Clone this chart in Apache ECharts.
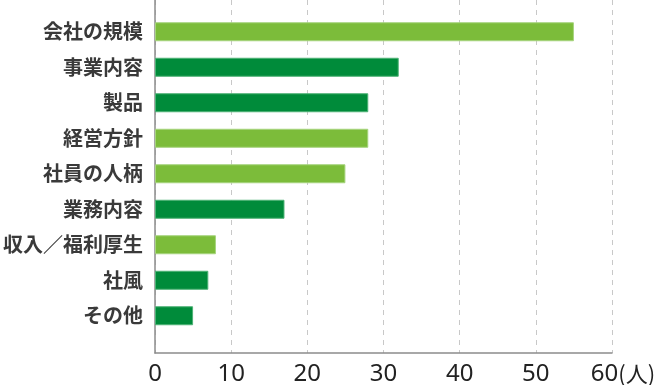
<!DOCTYPE html>
<html><head><meta charset="utf-8">
<script src="https://cdn.jsdelivr.net/npm/echarts@6/dist/echarts.min.js"></script>
<style>html,body{margin:0;padding:0;background:#fff}#c{width:658px;height:385px}</style>
</head><body><div id="c"></div>
<script>
const categories = ['会社の規模','事業内容','製品','経営方針','社員の人柄','業務内容','収入／福利厚生','社風','その他'];
const values = [55, 32, 28, 28, 25, 17, 8, 7, 5];
const colorKinds = ['light','dark','dark','light','light','dark','light','dark','dark'];
const tickValues = [0,10,20,30,40,50,60];
const unitLabel = '(人)';

const palette = {light:{fill:'#7cbc3a',border:'#a6d47e'}, dark:{fill:'#008b3a',border:'#4db276'}};
const chart = echarts.init(document.getElementById('c'));
const L = 155, R = 658-612;
chart.setOption({
  animation:false,
  grid:[
    {left:L,right:R,top:0,bottom:32,outerBoundsMode:'none',containLabel:false},
    {left:L,right:R,top:14,height:319.5,outerBoundsMode:'none',containLabel:false}
  ],
  xAxis:[
    {gridIndex:0,type:'value',min:0,max:60,interval:10,
     axisLine:{show:true,lineStyle:{color:'#8c8c8c',width:1.5}},
     axisTick:{show:false},
     splitLine:{show:true,lineStyle:{color:'#c8c8c8',type:[5,5],width:1}},
     axisLabel:{margin:9,color:'#222',fontSize:24,fontFamily:'Noto Sans, sans-serif',
       formatter:function(v){return v===60?'{a|60}{u|'+unitLabel+'}':String(v);},
       rich:{a:{fontSize:24,color:'#222',padding:[0,0,0,22],fontFamily:'Noto Sans, sans-serif'},
             u:{fontSize:22,color:'#222',fontFamily:'Noto Sans CJK JP, sans-serif'}}}},
    {gridIndex:1,type:'value',min:0,max:60,show:false,splitLine:{show:false}}
  ],
  yAxis:[
    {gridIndex:0,type:'category',data:[''],axisLine:{show:true,lineStyle:{color:'#8c8c8c',width:1.5}},
     axisTick:{show:false},axisLabel:{show:false}},
    {gridIndex:1,type:'category',inverse:true,data:categories,
     axisLine:{show:false},axisTick:{show:false},
     axisLabel:{margin:12,color:'#3a3a3a',fontSize:20,fontWeight:'bold',fontFamily:'Noto Sans CJK JP, sans-serif'}}
  ],
  series:[{
    type:'bar',xAxisIndex:1,yAxisIndex:1,barWidth:19,
    data:values.map((v,i)=>({value:v,itemStyle:{color:palette[colorKinds[i]].fill,borderColor:palette[colorKinds[i]].border,borderWidth:1}}))
  }]
});
</script></body></html>
